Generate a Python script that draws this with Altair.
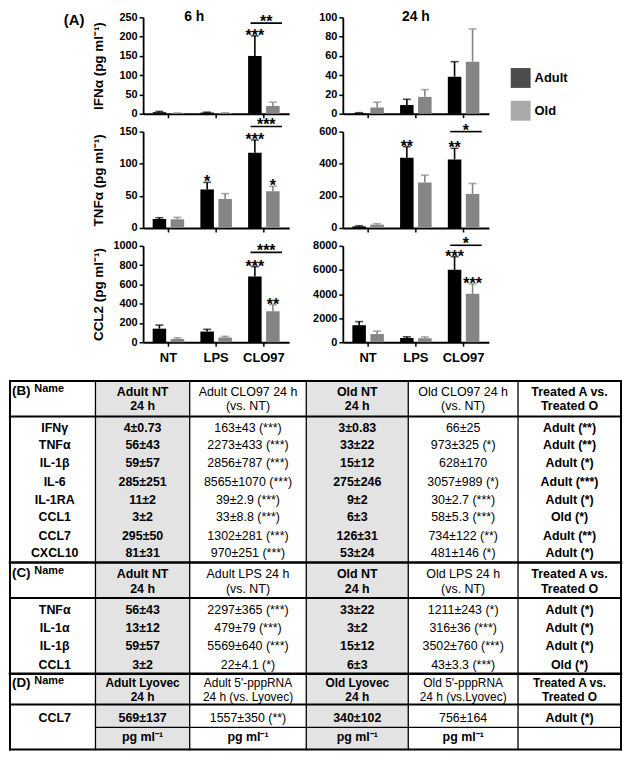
import altair as alt
import pandas as pd

FONT = "Liberation Sans"
GROUPS = ["NT", "LPS", "CLO97"]
AGES = ["Adult", "Old"]
AGE_COLORS = ["#000000", "#858585"]

# ---- Panel A values: mean and SEM for NT, LPS, CLO97 ----
IFNA_6H_ADULT = [4, 3, 150]
IFNA_6H_ADULT_SEM = [2, 1, 52]
IFNA_6H_OLD = [1.5, 2, 20]
IFNA_6H_OLD_SEM = [0.5, 0.5, 10]

IFNA_24H_ADULT = [0.8, 9, 38.5]
IFNA_24H_ADULT_SEM = [0.3, 6, 15.5]
IFNA_24H_OLD = [6.5, 17.5, 54]
IFNA_24H_OLD_SEM = [5.5, 7.5, 34]

TNFA_6H_ADULT = [14, 60, 117]
TNFA_6H_ADULT_SEM = [2, 11, 20]
TNFA_6H_OLD = [13.5, 45, 57]
TNFA_6H_OLD_SEM = [3, 8.5, 8]

TNFA_24H_ADULT = [10, 437, 427]
TNFA_24H_ADULT_SEM = [4, 69, 69]
TNFA_24H_OLD = [21, 283, 212]
TNFA_24H_OLD_SEM = [6, 46, 65]

CCL2_6H_ADULT = [141, 111, 681]
CCL2_6H_ADULT_SEM = [37, 23, 104]
CCL2_6H_OLD = [34, 50, 322]
CCL2_6H_OLD_SEM = [12, 11, 67]

CCL2_24H_ADULT = [1415, 354, 6014]
CCL2_24H_ADULT_SEM = [300, 100, 1090]
CCL2_24H_OLD = [680, 330, 4027]
CCL2_24H_OLD_SEM = [245, 110, 816]

# significance stars above bars: (group, age, label)
IFNA_6H_STARS = [("CLO97", "Adult", "***")]
IFNA_24H_STARS = []
TNFA_6H_STARS = [("LPS", "Adult", "*"), ("CLO97", "Adult", "***"), ("CLO97", "Old", "*")]
TNFA_24H_STARS = [("LPS", "Adult", "**"), ("CLO97", "Adult", "**")]
CCL2_6H_STARS = [("CLO97", "Adult", "***"), ("CLO97", "Old", "**")]
CCL2_24H_STARS = [("CLO97", "Adult", "***"), ("CLO97", "Old", "***")]

# Adult vs Old comparison brackets over CLO97: (height, label)
IFNA_6H_BRACKET = (235, "**")
IFNA_24H_BRACKET = None
TNFA_6H_BRACKET = (158, "***")
TNFA_24H_BRACKET = (600, "*")
CCL2_6H_BRACKET = (933, "***")
CCL2_24H_BRACKET = (8050, "*")

PW, PH = 147, 97


def make_panel(adult, adult_sem, old, old_sem, ymax, ystep, stars, bracket,
               ytitle, show_x_labels, title=None, title_dx=0, title_dy=0, legend=False):
    rows = []
    for i, g in enumerate(GROUPS):
        rows.append(dict(group=g, age="Adult", mean=adult[i], top=adult[i] + adult_sem[i], col=AGE_COLORS[0]))
        rows.append(dict(group=g, age="Old", mean=old[i], top=old[i] + old_sem[i], col=AGE_COLORS[1]))
    df = pd.DataFrame(rows)

    xaxis = alt.Axis(title=None, labels=show_x_labels, ticks=True, tickSize=4, tickWidth=1.5,
                     domainWidth=1.8, labelFontSize=13, labelFontWeight="bold", labelPadding=5,
                     labelAngle=0)
    xscale = alt.Scale(domain=GROUPS, paddingInner=0, paddingOuter=0.03)

    def xenc(bp=None):
        if bp is None:
            return alt.X("group:N", sort=GROUPS, scale=xscale, axis=xaxis)
        return alt.X("group:N", sort=GROUPS, scale=xscale, axis=xaxis, bandPosition=bp)

    xo = alt.XOffset("age:N", sort=AGES, scale=alt.Scale(domain=AGES, paddingInner=0.25, paddingOuter=0.45))
    yscale = alt.Scale(domain=[0, ymax], nice=False)
    yaxis_kw = dict(values=list(range(0, ymax + 1, ystep)), format="d", labelFontSize=11,
                    labelFontWeight="bold", tickSize=4, tickWidth=1.5, domainWidth=1.8,
                    labelPadding=2, minExtent=28, maxExtent=28, titlePadding=10,
                    titleFontSize=13.5, titleFontWeight="bold")
    if ytitle:
        yaxis = alt.Axis(title=ytitle, **yaxis_kw)
    else:
        yaxis = alt.Axis(title=None, **yaxis_kw)

    def yenc(field):
        return alt.Y(field, scale=yscale, axis=yaxis)

    if legend:
        leg = alt.Legend(orient="none", legendX=169, legendY=51, title=None, symbolType="square",
                         symbolSize=400, symbolStrokeWidth=0, labelFontSize=13,
                         labelFontWeight="bold", labelOffset=4, rowPadding=13, padding=0,
                         labelColor="black")
    else:
        leg = None
    color = alt.Color("age:N", scale=alt.Scale(domain=AGES, range=AGE_COLORS), legend=leg)

    base = alt.Chart(df)
    bars = base.mark_bar().encode(x=xenc(), xOffset=xo, y=yenc("mean:Q"), color=color)
    err = base.mark_rule(strokeWidth=1.6).encode(
        x=xenc(), xOffset=xo, y=yenc("mean:Q"), y2="top:Q", color=alt.Color("col:N", scale=None))
    caps = base.mark_tick(orient="horizontal", size=8, thickness=1.6).encode(
        x=xenc(), xOffset=xo, y=yenc("top:Q"), color=alt.Color("col:N", scale=None))
    layers = [bars, err, caps]

    if stars:
        top_lookup = {(r["group"], r["age"]): r["top"] for r in rows}
        sdf = pd.DataFrame([dict(group=g, age=a, top=top_lookup[(g, a)], label=l) for g, a, l in stars])
        layers.append(alt.Chart(sdf).mark_text(fontSize=16, fontWeight="bold", baseline="alphabetic",
                                                dy=5, color="black").encode(
            x=xenc(), xOffset=xo, y=yenc("top:Q"), text="label:N"))
    if bracket:
        bdf = pd.DataFrame([dict(group="CLO97", y=bracket[0], label=bracket[1])])
        layers.append(alt.Chart(bdf).mark_rule(strokeWidth=1.6, color="black").encode(
            x=xenc(0.22), x2=alt.X2("group", bandPosition=0.88), y=yenc("y:Q")))
        layers.append(alt.Chart(bdf).mark_text(fontSize=16, fontWeight="bold", baseline="alphabetic",
                                               dy=4, color="black").encode(
            x=xenc(0.55), y=yenc("y:Q"), text="label:N"))

    ch = alt.layer(*layers)
    if title:
        ch = ch.properties(width=PW, height=PH,
                           title=alt.TitleParams(text=title, fontSize=14, fontWeight="bold",
                                                 anchor="middle", dx=title_dx, dy=title_dy, offset=0,
                                                 color="black"))
    else:
        ch = ch.properties(width=PW, height=PH)
    return ch


c11 = make_panel(IFNA_6H_ADULT, IFNA_6H_ADULT_SEM, IFNA_6H_OLD, IFNA_6H_OLD_SEM, 250, 50,
                 IFNA_6H_STARS, IFNA_6H_BRACKET, "IFNα (pg ml⁻¹)", False, title="6 h",
                 title_dx=-22, title_dy=13)
c12 = make_panel(IFNA_24H_ADULT, IFNA_24H_ADULT_SEM, IFNA_24H_OLD, IFNA_24H_OLD_SEM, 100, 20,
                 IFNA_24H_STARS, IFNA_24H_BRACKET, None, False, title="24 h", title_dy=13,
                 legend=True)
c21 = make_panel(TNFA_6H_ADULT, TNFA_6H_ADULT_SEM, TNFA_6H_OLD, TNFA_6H_OLD_SEM, 150, 50,
                 TNFA_6H_STARS, TNFA_6H_BRACKET, "TNFα (pg ml⁻¹)", False)
c22 = make_panel(TNFA_24H_ADULT, TNFA_24H_ADULT_SEM, TNFA_24H_OLD, TNFA_24H_OLD_SEM, 600, 200,
                 TNFA_24H_STARS, TNFA_24H_BRACKET, None, False)
c31 = make_panel(CCL2_6H_ADULT, CCL2_6H_ADULT_SEM, CCL2_6H_OLD, CCL2_6H_OLD_SEM, 1000, 200,
                 CCL2_6H_STARS, CCL2_6H_BRACKET, "CCL2 (pg ml⁻¹)", True)
c32 = make_panel(CCL2_24H_ADULT, CCL2_24H_ADULT_SEM, CCL2_24H_OLD, CCL2_24H_OLD_SEM, 8000, 2000,
                 CCL2_24H_STARS, CCL2_24H_BRACKET, None, True)

gridA = alt.ConcatChart(concat=[c11, c12, c21, c22, c31, c32], columns=2,
                        spacing={"row": 18, "column": 54}, bounds="flush")
gridA = gridA.resolve_scale(color="independent").resolve_legend(color="independent")

spacerA = alt.Chart(pd.DataFrame({"v": [0]})).mark_point(opacity=0).properties(
    width=75, height=30,
    title=alt.TitleParams(text="(A)", anchor="end", fontSize=15, fontWeight="bold", offset=0,
                          dy=11, color="black"))

topRow = alt.hconcat(spacerA, gridA, spacing=7)

# ---- Tables B, C, D ----
COL_EDGES = [0, 88, 185, 305, 410, 523, 629]
SHADED_COLS = [1, 3]
BOLD_COLS = [0, 1, 3, 5]
TABLE_DEPTH = 20.15

B_HEADERS = [("Adult NT", "24 h"), ("Adult CLO97 24 h", "(vs. NT)"), ("Old NT", "24 h"),
             ("Old CLO97  24 h", "(vs. NT)"), ("Treated A vs.", "Treated O")]
B_NAMES = ["IFNγ", "TNFα", "IL-1β", "IL-6", "IL-1RA", "CCL1", "CCL7", "CXCL10"]
B_ADULT_NT = ["4±0.73", "56±43", "59±57", "285±251", "11±2", "3±2", "295±50", "81±31"]
B_ADULT_CLO97 = ["163±43 (***)", "2273±433 (***)", "2856±787 (***)", "8565±1070 (***)",
                 "39±2.9 (***)", "33±8.8 (***)", "1302±281 (***)", "970±251 (***)"]
B_OLD_NT = ["3±0.83", "33±22", "15±12", "275±246", "9±2", "6±3", "126±31", "53±24"]
B_OLD_CLO97 = ["66±25", "973±325 (*)", "628±170", "3057±989 (*)", "30±2.7 (***)",
               "58±5.3 (***)", "734±122 (**)", "481±146 (*)"]
B_TREATED = ["Adult (**)", "Adult (**)", "Adult (*)", "Adult (***)", "Adult (*)", "Old (*)",
             "Adult (**)", "Adult (*)"]

C_HEADERS = [("Adult NT", "24 h"), ("Adult LPS 24 h", "(vs. NT)"), ("Old NT", "24 h"),
             ("Old LPS  24 h", "(vs. NT)"), ("Treated A vs.", "Treated O")]
C_NAMES = ["TNFα", "IL-1α", "IL-1β", "CCL1"]
C_ADULT_NT = ["56±43", "13±12", "59±57", "3±2"]
C_ADULT_LPS = ["2297±365 (***)", "479±79 (***)", "5569±640 (***)", "22±4.1 (*)"]
C_OLD_NT = ["33±22", "3±2", "15±12", "6±3"]
C_OLD_LPS = ["1211±243 (*)", "316±36 (***)", "3502±760 (***)", "43±3.3 (***)"]
C_TREATED = ["Adult (*)", "Adult (*)", "Adult (*)", "Old (*)"]

D_HEADERS = [("Adult Lyovec", "24 h"), ("Adult 5'-pppRNA", "24 h (vs. Lyovec)"), ("Old Lyovec", "24 h"),
             ("Old 5'-pppRNA", "24 h (vs.Lyovec)"), ("Treated A vs.", "Treated O")]
D_NAMES = ["CCL7"]
D_ADULT_LYOVEC = ["569±137"]
D_ADULT_PPP = ["1557±350 (**)"]
D_OLD_LYOVEC = ["340±102"]
D_OLD_PPP = ["756±164"]
D_TREATED = ["Adult (*)"]
UNIT_ROW = ["", "pg ml⁻¹", "pg ml⁻¹", "pg ml⁻¹", "pg ml⁻¹", ""]

SECTION_LABELS = ["(B)", "(C)", "(D)"]

# row layout of the table, in row units
B_HDR_Y = (0.6, 1.38)
C_HDR_Y = (10.55, 11.36)
D_HDR_Y = (16.52, 17.29)
B_ROW_Y = [2.57, 3.52, 4.51, 5.51, 6.51, 7.45, 8.45, 9.39]
C_ROW_Y = [12.54, 13.48, 14.48, 15.53]
D_ROW_Y = [18.42]
UNIT_Y = 19.46
H_LINES = [(0, 0, 2), (1.94, 0, 2.2), (9.92, 0, 2.5), (11.86, 0, 2), (16.0, 0, 2.5),
           (17.68, 0, 2), (18.94, 1, 1.2), (TABLE_DEPTH, 0, 2)]

centers = [46] + [(COL_EDGES[i] + COL_EDGES[i + 1]) / 2 for i in range(1, 6)]

cells = []


def add_cell(ci, y, text, fs=12.5):
    cells.append(dict(x=centers[ci], y=y, text=text, bold=ci in BOLD_COLS, fs=fs))


for headers, ys, fs in [(B_HEADERS, B_HDR_Y, 12.5), (C_HEADERS, C_HDR_Y, 12.5), (D_HEADERS, D_HDR_Y, 12)]:
    for j, (l1, l2) in enumerate(headers):
        add_cell(j + 1, ys[0], l1, fs)
        add_cell(j + 1, ys[1], l2, fs)

for cols, ys in [((B_NAMES, B_ADULT_NT, B_ADULT_CLO97, B_OLD_NT, B_OLD_CLO97, B_TREATED), B_ROW_Y),
                 ((C_NAMES, C_ADULT_NT, C_ADULT_LPS, C_OLD_NT, C_OLD_LPS, C_TREATED), C_ROW_Y),
                 ((D_NAMES, D_ADULT_LYOVEC, D_ADULT_PPP, D_OLD_LYOVEC, D_OLD_PPP, D_TREATED), D_ROW_Y)]:
    for r, y in enumerate(ys):
        for ci, col in enumerate(cols):
            add_cell(ci, y, col[r])
for ci, t in enumerate(UNIT_ROW):
    if t:
        cells.append(dict(x=centers[ci], y=UNIT_Y, text=t, bold=True, fs=12.5))

cell_df = pd.DataFrame(cells)

sec_df = pd.DataFrame(dict(x=[2, 2, 2], y=[B_HDR_Y[0] - 0.05, C_HDR_Y[0] - 0.05, D_HDR_Y[0] + 0.01],
                           text=SECTION_LABELS))
name_df = pd.DataFrame(dict(x=[25, 25, 25], y=[B_HDR_Y[0] - 0.18, C_HDR_Y[0] - 0.18, D_HDR_Y[0] - 0.12],
                            text=["Name", "Name", "Name"]))

shade_df = pd.DataFrame(dict(x1=[COL_EDGES[i] for i in SHADED_COLS],
                             x2=[COL_EDGES[i + 1] for i in SHADED_COLS],
                             y1=[0, 0], y2=[TABLE_DEPTH, TABLE_DEPTH]))
hline_df = pd.DataFrame(dict(y=[h[0] for h in H_LINES], x1=[COL_EDGES[h[1]] for h in H_LINES],
                             x2=[COL_EDGES[-1]] * len(H_LINES), w=[h[2] for h in H_LINES]))
vline_df = pd.DataFrame(dict(x=COL_EDGES, y1=[0] * len(COL_EDGES), y2=[TABLE_DEPTH] * len(COL_EDGES),
                             w=[2 if i in (0, len(COL_EDGES) - 1) else 1.3 for i in range(len(COL_EDGES))]))

txs = alt.Scale(domain=[0, COL_EDGES[-1]], nice=False, zero=False)
tys = alt.Scale(domain=[0, TABLE_DEPTH], reverse=True, nice=False, zero=False)

shade = alt.Chart(shade_df).mark_rect(color="#e3e3e3").encode(
    x=alt.X("x1:Q", scale=txs, axis=None), x2="x2:Q",
    y=alt.Y("y1:Q", scale=tys, axis=None), y2="y2:Q")
hlines = alt.Chart(hline_df).mark_rule(color="black", strokeCap="square").encode(
    x=alt.X("x1:Q", scale=txs, axis=None), x2="x2:Q",
    y=alt.Y("y:Q", scale=tys, axis=None), size=alt.Size("w:Q", scale=None))
vlines = alt.Chart(vline_df).mark_rule(color="black", strokeCap="square").encode(
    x=alt.X("x:Q", scale=txs, axis=None),
    y=alt.Y("y1:Q", scale=tys, axis=None), y2="y2:Q", size=alt.Size("w:Q", scale=None))
bold_text = alt.Chart(cell_df).transform_filter("datum.bold").mark_text(
    fontWeight="bold", baseline="middle", color="black").encode(
    x=alt.X("x:Q", scale=txs, axis=None), y=alt.Y("y:Q", scale=tys, axis=None), text="text:N",
    size=alt.Size("fs:Q", scale=None))
norm_text = alt.Chart(cell_df).transform_filter("!datum.bold").mark_text(
    fontWeight="normal", baseline="middle", color="black").encode(
    x=alt.X("x:Q", scale=txs, axis=None), y=alt.Y("y:Q", scale=tys, axis=None), text="text:N",
    size=alt.Size("fs:Q", scale=None))
sec_text = alt.Chart(sec_df).mark_text(
    fontSize=13.5, fontWeight="bold", baseline="middle", align="left", color="black").encode(
    x=alt.X("x:Q", scale=txs, axis=None), y=alt.Y("y:Q", scale=tys, axis=None), text="text:N")
name_text = alt.Chart(name_df).mark_text(
    fontSize=11, fontWeight="bold", baseline="middle", align="left", color="black").encode(
    x=alt.X("x:Q", scale=txs, axis=None), y=alt.Y("y:Q", scale=tys, axis=None), text="text:N")

table = alt.layer(shade, hlines, vlines, bold_text, norm_text, sec_text, name_text).properties(
    width=615, height=371)

chart = alt.vconcat(topRow, table, spacing=15).properties(padding=0).configure(
    font=FONT).configure_view(stroke=None).configure_axis(
    domainColor="black", tickColor="black", labelColor="black", titleColor="black", grid=False,
    labelFont=FONT, titleFont=FONT).configure_title(font=FONT, color="black").configure_legend(
    labelFont=FONT)

chart.save("out.html", embed_options={"renderer": "svg", "actions": False})
